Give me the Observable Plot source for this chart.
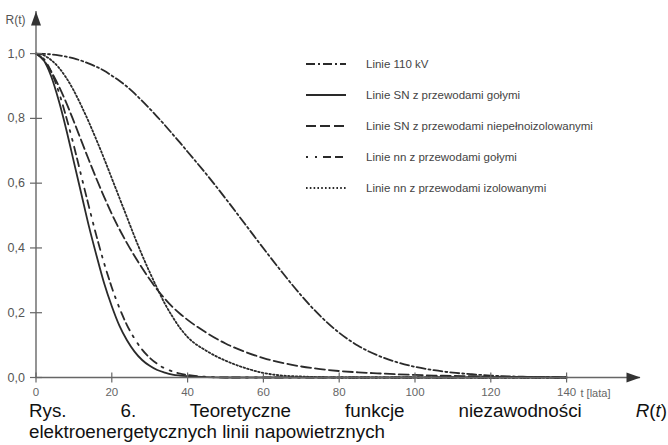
<!DOCTYPE html>
<html><head><meta charset="utf-8">
<script src="https://cdn.jsdelivr.net/npm/d3@7"></script>
<script src="https://cdn.jsdelivr.net/npm/@observablehq/plot@0.6"></script>
<style>
body{margin:0;background:#fff;font-family:"Liberation Sans",Arial,sans-serif;}
#wrap{position:relative;width:668px;height:445px;overflow:hidden;background:#fff;}
#chart svg{display:block;}
.row{position:absolute;left:305px;height:16px;display:flex;align-items:center;font-size:11.5px;color:#444;white-space:nowrap;}
.row svg{margin-right:19px;display:block;}
#cap{position:absolute;left:29px;top:400px;width:638px;font-size:18.8px;line-height:21px;color:#111;}
#cap .l1{text-align:justify;text-align-last:justify;}
</style></head>
<body>
<div id="wrap"><div id="chart"></div><div id="legend"></div>
<div id="cap"><div class="l1">Rys. 6. Teoretyczne funkcje niezawodności <i>R</i>(<i>t</i>)</div><div>elektroenergetycznych linii napowietrznych</div></div>
</div>
<script>
// ---- data ----
const tVals = [0,2,4,6,8,10,12,14,16,18,20,22,24,26,28,30,32,34,36,38,40,45,50,55,60,65,70,75,80,85,90,95,100,105,110,115,120,125,130,135,140];
const r110kV   = [1,0.9994,0.9976,0.9946,0.9904,0.985,0.978,0.969,0.959,0.947,0.932,0.916,0.898,0.877,0.854,0.83,0.805,0.779,0.752,0.725,0.697,0.627,0.553,0.476,0.399,0.324,0.253,0.19,0.138,0.098,0.069,0.048,0.033,0.0225,0.015,0.01,0.006,0.0035,0.002,0.001,0];
const rSNgole  = [1,0.98,0.93,0.855,0.765,0.665,0.565,0.465,0.375,0.29,0.22,0.16,0.115,0.08,0.054,0.036,0.023,0.015,0.009,0.006,0.004,0.001,0,0,0,0,0,0,0,0,0,0,0,0,0,0,0,0,0,0,0];
const rSNniep  = [1,0.98,0.945,0.9,0.848,0.79,0.73,0.67,0.612,0.557,0.505,0.458,0.415,0.375,0.338,0.303,0.271,0.243,0.218,0.197,0.178,0.138,0.105,0.08,0.06,0.045,0.034,0.026,0.02,0.016,0.013,0.01,0.008,0.006,0.005,0.004,0.003,0.002,0.0015,0.001,0];
const rNNgole  = [1,0.985,0.944,0.882,0.803,0.715,0.62,0.526,0.435,0.352,0.278,0.215,0.162,0.12,0.086,0.061,0.042,0.028,0.019,0.012,0.008,0.002,0,0,0,0,0,0,0,0,0,0,0,0,0,0,0,0,0,0,0];
const rNNizol  = [1,0.995,0.98,0.957,0.925,0.885,0.838,0.787,0.732,0.675,0.615,0.555,0.495,0.435,0.378,0.325,0.275,0.228,0.188,0.153,0.125,0.082,0.052,0.03,0.014,0.006,0.003,0.001,0,0,0,0,0,0,0,0,0,0,0,0,0];
const seriesNames = ["Linie 110 kV","Linie SN z przewodami gołymi","Linie SN z przewodami niepełnoizolowanymi","Linie nn z przewodami gołymi","Linie nn z przewodami izolowanymi"];
const seriesValues = [r110kV, rSNgole, rSNniep, rNNgole, rNNizol];
const xTicks = [0,20,40,60,80,100,120,140];
const yTicks = [0,0.2,0.4,0.6,0.8,1.0];
const xMax = 159.5, yMax = 1.13;
const yLabel = "R(t)", xLabel = "t [lata]";

// ---- styles ----
const dashes = ["9,3,2,3", null, "10,4", "2,7,2,6,8,4,8,6", "1.6,2.2"];
const ink = "#2a2a2a", axisColor = "#666";

const arrowUp = {draw(ctx){ctx.moveTo(0,0);ctx.lineTo(5,14);ctx.lineTo(-5,14);ctx.closePath();}};
const vTick = {draw(ctx){ctx.moveTo(0,-5);ctx.lineTo(0,5);}};
const hTick = {draw(ctx){ctx.moveTo(-6,0);ctx.lineTo(6,0);}};

const lines = seriesValues.map((vals,k) =>
  Plot.line(tVals.map((t,i)=>({t, R: vals[i]})), {x:"t", y:"R", stroke: ink, strokeWidth: 1.8,
    strokeDasharray: dashes[k] || undefined, curve: "monotone-x"}));

const chart = Plot.plot({
  width: 668, height: 400,
  marginLeft: 35.5, marginRight: 28, marginTop: 11, marginBottom: 23,
  style: {fontFamily: "'Liberation Sans', Arial, sans-serif", fontSize: "11.5px", color: "#555", background: "#fff"},
  x: {domain: [0, xMax]},
  y: {domain: [0, yMax]},
  marks: [
    Plot.axisX({ticks: xTicks, tickSize: 0, tickPadding: 10, label: null, tickFormat: d => String(d), fill: "#666"}),
    Plot.axisY({ticks: yTicks, tickSize: 0, tickPadding: 11, label: null, fontSize: 12.5, tickFormat: d => d.toFixed(1).replace(".", ",")}),
    ...lines,
    Plot.ruleY([0], {stroke: axisColor, strokeWidth: 1.4}),
    Plot.ruleX([0], {stroke: axisColor, strokeWidth: 1.4}),
    Plot.dot(xTicks, {x: d => d, y: 0, symbol: vTick, fill: "none", stroke: axisColor, strokeWidth: 1.2}),
    Plot.dot(yTicks, {x: 0, y: d => d, symbol: hTick, fill: "none", stroke: axisColor, strokeWidth: 1.2}),
    Plot.dot([0], {x: 0, y: yMax, symbol: arrowUp, fill: "#333", stroke: "none"}),
    Plot.dot([0], {x: xMax, y: 0, symbol: arrowUp, rotate: 90, fill: "#333", stroke: "none"}),
    Plot.text([yLabel], {frameAnchor: "top-left", lineAnchor: "middle", text: d => d, textAnchor: "start", dx: -30.5, dy: 9, fill: "#555", fontSize: 12}),
    Plot.text([xLabel], {frameAnchor: "bottom-right", lineAnchor: "middle", text: d => d, textAnchor: "start", dx: -60, dy: 16, fill: "#666", fontSize: 11})
  ]
});
document.getElementById("chart").appendChild(chart);

// ---- legend ----
const legend = document.getElementById("legend");
const rowTops = [56, 87, 118, 149, 180];
seriesNames.forEach((name,k) => {
  const row = document.createElement("div");
  row.className = "row";
  row.style.top = rowTops[k] + "px";
  row.innerHTML = `<svg width="42" height="6"><line x1="1" y1="3" x2="41" y2="3" stroke="${ink}" stroke-width="1.8" ${dashes[k] ? `stroke-dasharray="${dashes[k]}"` : ""}/></svg><span>${name}</span>`;
  legend.appendChild(row);
});
</script>
</body></html>
